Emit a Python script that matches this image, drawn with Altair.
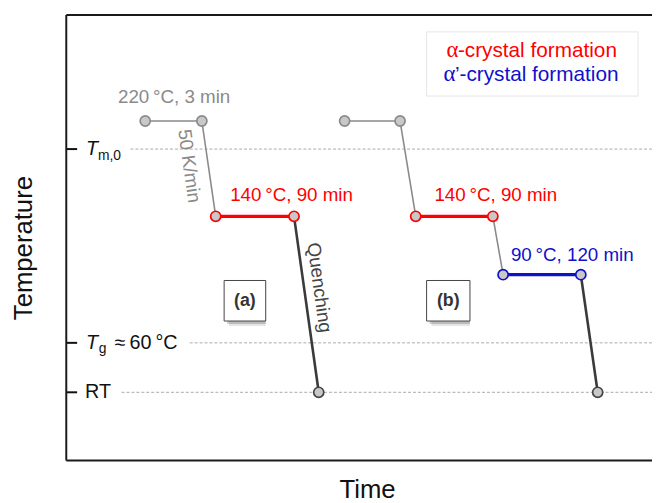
import altair as alt
import pandas as pd

FONT = "Liberation Sans, Arial, Helvetica, sans-serif"
SERIF = "Liberation Serif, Times New Roman, serif"

# ---------------- data (schematic units) ----------------
# protocol (a): melt hold -> cool 50 K/min -> 140 °C isothermal -> quench to RT
a_time = [13.1, 22.5, 24.8, 37.8, 41.9]
a_temp = [76.2, 76.2, 54.8, 54.8, 15.3]
a_point_kind = ["melt", "melt", "alpha", "alpha", "end"]
a_seg_kind = ["hold", "cool", "alpha", "quench"]

# protocol (b): melt hold -> 140 °C -> 90 °C -> quench to RT
b_time = [46.2, 55.4, 58.0, 70.8, 72.5, 85.4, 88.2]
b_temp = [76.2, 76.2, 54.8, 54.8, 41.7, 41.7, 15.3]
b_point_kind = ["melt", "melt", "alpha", "alpha", "alphap", "alphap", "end"]
b_seg_kind = ["hold", "cool", "alpha", "cool", "alphap", "quench"]

# y "ticks": Tm,0 , Tg ≈ 60 °C , RT
tick_temp = [69.9, 26.4, 15.3]
tick_name = ["Tm0", "Tg", "RT"]

# annotations
ann_text = ["220\u2009°C, 3 min", "140\u2009°C, 90 min", "140\u2009°C, 90 min", "90\u2009°C, 120 min"]
ann_time = [17.9, 27.2, 61.1, 73.8]
ann_temp = [80.3, 58.3, 58.3, 44.8]
ann_kind = ["melt", "alpha", "alpha", "alphap"]

rot_text = ["50 K/min", "Quenching"]
rot_time = [20.4, 42.0]
rot_temp = [66.1, 38.8]
rot_kind = ["melt", "end"]

box_label = ["(a)", "(b)"]
box_x1 = [26.2, 59.8]
box_x2 = [33.1, 67.0]
box_y1 = [31.3, 31.3]
box_y2 = [40.4, 40.4]

legend_greek = ["\u03b1", "\u03b1"]
legend_rest = ["-crystal formation", "\u2019-crystal formation"]
legend_kind = ["alpha", "alphap"]
legend_greek_time = [63.1, 62.6]
legend_rest_time = [65.0, 64.5]
legend_temp = [90.5, 85.1]
legend_box = {"x1": 59.8, "x2": 94.9, "y1": 81.8, "y2": 96.2}

# ---------------- styles ----------------
W, H = 593, 451
XS = alt.Scale(domain=[0, W / 6.1], nice=False, zero=False)
YS = alt.Scale(domain=[0, 100], nice=False, zero=False)
KIND_DOM = ["melt", "alpha", "alphap", "end"]
KIND_COL = ["#8a8a8a", "#ff0000", "#1010cc", "#444444"]
GRID_START = {"Tm0": 65, "Tg": 125, "RT": 56}


def X(f):
    return alt.X(f, type="quantitative", scale=XS, axis=None)


def Y(f):
    return alt.Y(f, type="quantitative", scale=YS, axis=None)


# ---------------- tables ----------------
seg_rows = []
for t, T, kinds, lab in [(a_time, a_temp, a_seg_kind, "a"), (b_time, b_temp, b_seg_kind, "b")]:
    for i, k in enumerate(kinds):
        seg_rows.append({"x": t[i], "y": T[i], "x2": t[i + 1], "y2": T[i + 1], "kind": k, "run": lab})
segs = pd.DataFrame(seg_rows)

pts = pd.DataFrame({
    "x": a_time + b_time,
    "y": a_temp + b_temp,
    "kind": a_point_kind + b_point_kind,
})
ticks = pd.DataFrame({"y": tick_temp, "name": tick_name,
                      "gx": [GRID_START[n] for n in tick_name]})
ann = pd.DataFrame({"text": ann_text, "x": ann_time, "y": ann_temp, "kind": ann_kind})
rot = pd.DataFrame({"text": rot_text, "x": rot_time, "y": rot_temp, "kind": rot_kind})
boxes = pd.DataFrame({"label": box_label, "x1": box_x1, "x2": box_x2, "y1": box_y1, "y2": box_y2,
                      "xc": [(a + b) / 2 for a, b in zip(box_x1, box_x2)],
                      "yc": [(a + b) / 2 for a, b in zip(box_y1, box_y2)]})
leg = pd.DataFrame({"greek": legend_greek, "rest": legend_rest, "kind": legend_kind,
                    "xg": legend_greek_time, "xr": legend_rest_time, "y": legend_temp})
legbox = pd.DataFrame([legend_box])
one = pd.DataFrame({"a": [0]})

color_scale = alt.Scale(domain=KIND_DOM, range=KIND_COL)

# ---------------- layers ----------------
grid = alt.Chart(ticks).mark_rule(color="#aaaaaa", strokeWidth=1, strokeDash=[3, 2]).encode(
    x=alt.X("gx:Q", scale=None), x2=alt.value(W), y=Y("y"))

tickmarks = alt.Chart(ticks).mark_rule(color="#111111", strokeWidth=2).encode(
    x=alt.value(0), x2=alt.value(11), y=Y("y"))

frame_left = alt.Chart(one).mark_rule(color="#1a1a1a", strokeWidth=2).encode(
    x=alt.value(0), y=alt.value(0), y2=alt.value(H))
frame_top = alt.Chart(one).mark_rule(color="#1a1a1a", strokeWidth=2).encode(
    x=alt.value(0), x2=alt.value(W), y=alt.value(0))
frame_bottom = alt.Chart(one).mark_rule(color="#1a1a1a", strokeWidth=2).encode(
    x=alt.value(0), x2=alt.value(W), y=alt.value(H))

# tick labels
lab_base = dict(font=FONT, fontSize=20, color="#111111", baseline="middle", align="left")
t_T = alt.Chart(ticks[ticks.name != "RT"]).mark_text(fontStyle="italic", **lab_base).encode(
    x=alt.value(20), y=Y("y"), text=alt.value("T"))
t_m0 = alt.Chart(ticks[ticks.name == "Tm0"]).mark_text(
    font=FONT, fontSize=14, color="#111111", baseline="middle", align="left", dy=7).encode(
    x=alt.value(32), y=Y("y"), text=alt.value("m,0"))
t_g = alt.Chart(ticks[ticks.name == "Tg"]).mark_text(
    font=FONT, fontSize=14, color="#111111", baseline="middle", align="left", dy=6).encode(
    x=alt.value(33), y=Y("y"), text=alt.value("g"))
t_g2 = alt.Chart(ticks[ticks.name == "Tg"]).mark_text(**lab_base).encode(
    x=alt.value(49), y=Y("y"), text=alt.value("\u2248\u200960\u2009°C"))
t_rt = alt.Chart(ticks[ticks.name == "RT"]).mark_text(**lab_base).encode(
    x=alt.value(19), y=Y("y"), text=alt.value("RT"))


# protocol lines
def seg_layer(kinds, color, width):
    return alt.Chart(segs[segs.kind.isin(kinds)]).mark_rule(color=color, strokeWidth=width).encode(
        x=X("x"), y=Y("y"), x2="x2:Q", y2="y2:Q")


seg_gray = seg_layer(["hold", "cool"], "#8a8a8a", 1.6)
seg_quench = seg_layer(["quench"], "#3a3a3a", 2.6)
seg_alpha = seg_layer(["alpha"], "#ff0000", 3.2)
seg_alphap = seg_layer(["alphap"], "#1010cc", 3.2)

points = alt.Chart(pts).mark_circle(fill="#c8c8c8", size=105, strokeWidth=1.7, opacity=1).encode(
    x=X("x"), y=Y("y"), stroke=alt.Stroke("kind:N", scale=color_scale, legend=None))

# annotations
ann_center = alt.Chart(ann[ann.kind == "melt"]).mark_text(
    font=FONT, fontSize=19, align="center", baseline="alphabetic").encode(
    x=X("x"), y=Y("y"), text="text:N", color=alt.Color("kind:N", scale=color_scale, legend=None))
ann_left = alt.Chart(ann[ann.kind != "melt"]).mark_text(
    font=FONT, fontSize=19, align="left", baseline="alphabetic").encode(
    x=X("x"), y=Y("y"), text="text:N", color=alt.Color("kind:N", scale=color_scale, legend=None))
ann_rot = alt.Chart(rot).mark_text(
    font=FONT, fontSize=19, align="center", baseline="middle", angle=82).encode(
    x=X("x"), y=Y("y"), text="text:N", color=alt.Color("kind:N", scale=color_scale, legend=None))

# (a) / (b) boxes with soft shadow
shadow1 = alt.Chart(boxes).mark_rect(fill="#000000", opacity=0.10, xOffset=5, yOffset=5).encode(
    x=X("x1"), x2="x2:Q", y=Y("y1"), y2="y2:Q")
shadow2 = alt.Chart(boxes).mark_rect(fill="#000000", opacity=0.18, xOffset=3, yOffset=3).encode(
    x=X("x1"), x2="x2:Q", y=Y("y1"), y2="y2:Q")
box_rect = alt.Chart(boxes).mark_rect(fill="white", stroke="#444444", strokeWidth=1).encode(
    x=X("x1"), x2="x2:Q", y=Y("y1"), y2="y2:Q")
box_txt = alt.Chart(boxes).mark_text(font=FONT, fontSize=18, fontWeight="bold", color="#333333",
                                     baseline="middle", align="center").encode(
    x=X("xc"), y=Y("yc"), text="label:N")

# legend box
leg_rect = alt.Chart(legbox).mark_rect(fill="white", stroke="#e6e6e6", strokeWidth=1).encode(
    x=X("x1"), x2="x2:Q", y=Y("y1"), y2="y2:Q")
leg_greek = alt.Chart(leg).mark_text(font=SERIF, fontSize=23, align="left", baseline="alphabetic").encode(
    x=X("xg"), y=Y("y"), text="greek:N", color=alt.Color("kind:N", scale=color_scale, legend=None))
leg_rest = alt.Chart(leg).mark_text(font=FONT, fontSize=21, align="left", baseline="alphabetic").encode(
    x=X("xr"), y=Y("y"), text="rest:N", color=alt.Color("kind:N", scale=color_scale, legend=None))

# axis titles
ytitle = alt.Chart(one).mark_text(font=FONT, fontSize=26, color="#111111", angle=270,
                                  align="center", baseline="alphabetic").encode(
    x=alt.value(-35), y=alt.value(236), text=alt.value("Temperature"))
xtitle = alt.Chart(one).mark_text(font=FONT, fontSize=26, color="#111111",
                                  align="center", baseline="alphabetic").encode(
    x=alt.value(305), y=alt.value(H + 38), text=alt.value("Time"))

chart = alt.layer(
    grid, tickmarks, frame_left, frame_top, frame_bottom,
    t_T, t_m0, t_g, t_g2, t_rt,
    shadow1, shadow2, box_rect, box_txt,
    leg_rect, leg_greek, leg_rest,
    seg_gray, seg_quench, seg_alpha, seg_alphap, points,
    ann_center, ann_left, ann_rot,
    ytitle, xtitle,
).resolve_scale(color="shared", stroke="shared").properties(
    width=W, height=H,
    autosize=alt.AutoSizeParams(type="none"),
    padding={"left": 59, "top": 4, "right": 0, "bottom": 40},
    background="white",
).configure_view(stroke=None)

chart.save("out.html", embed_options={"renderer": "svg", "actions": False})
